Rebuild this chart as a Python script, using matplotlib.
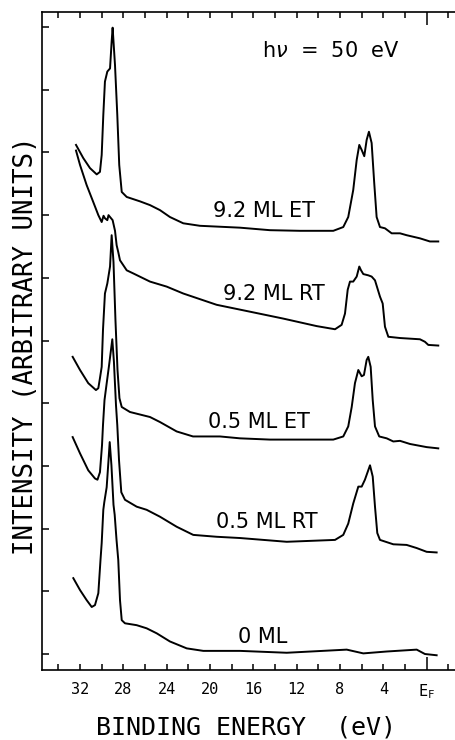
import matplotlib
matplotlib.use("Agg")
import matplotlib.pyplot as plt
import numpy as np

# ---------------- data (binding energy in eV, intensity in arbitrary units) -------------
e_92et = [32.37, 31.70, 31.08, 30.46, 30.16, 30.00, 29.85, 29.70, 29.48, 29.23, 29.08, 28.99,
          28.77, 28.56, 28.38, 28.15, 27.69, 26.47, 25.54, 24.62, 23.70, 22.47, 20.93, 17.23,
          14.47, 11.70, 8.62, 7.70, 7.24, 6.78, 6.46, 6.22, 6.00, 5.76, 5.54, 5.33, 5.08, 4.84,
          4.62, 4.31, 3.85, 3.23, 2.46, 1.85, 0.62, -0.30, -1.07]
i_92et = [8.12, 7.91, 7.75, 7.65, 7.69, 7.96, 8.60, 9.13, 9.29, 9.34, 9.77, 9.99,
          9.39, 8.60, 7.80, 7.37, 7.29, 7.22, 7.16, 7.08, 6.97, 6.87, 6.83, 6.80,
          6.76, 6.75, 6.75, 6.81, 6.97, 7.40, 7.88, 8.12, 8.04, 7.94, 8.20, 8.33, 8.15, 7.51,
          6.97, 6.81, 6.79, 6.71, 6.71, 6.68, 6.63, 6.58, 6.58]

e_92rt = [32.37, 32.00, 31.39, 30.78, 30.31, 30.00, 29.83, 29.70, 29.48, 29.37, 29.23, 28.99,
          28.77, 28.62, 28.47, 28.31, 27.69, 27.08, 25.54, 24.00, 22.47, 19.39, 16.31, 13.24,
          10.15, 8.46, 7.85, 7.54, 7.29, 7.08, 6.78, 6.46, 6.22, 6.06, 5.85, 5.39, 5.08, 4.77,
          4.31, 4.06, 3.85, 3.54, 2.46, 0.62, 0.16, -0.15, -1.07]
i_92rt = [8.03, 7.80, 7.48, 7.21, 7.00, 6.89, 6.99, 6.95, 6.92, 7.00, 6.97, 6.92,
          6.75, 6.52, 6.41, 6.28, 6.12, 6.07, 5.94, 5.86, 5.75, 5.57, 5.46, 5.35,
          5.23, 5.18, 5.25, 5.43, 5.81, 5.94, 5.94, 6.02, 6.18, 6.12, 6.06, 6.04, 6.02, 5.96,
          5.70, 5.59, 5.22, 5.06, 5.04, 5.02, 4.98, 4.93, 4.92]

e_05et = [32.68, 32.00, 31.24, 30.53, 30.31, 30.16, 30.00, 29.88, 29.70, 29.48, 29.23, 29.08,
          28.91, 28.73, 28.54, 28.36, 28.15, 27.39, 25.54, 24.62, 23.08, 21.57, 19.08, 17.23,
          14.47, 8.62, 7.70, 7.24, 6.92, 6.62, 6.31, 6.00, 5.79, 5.54, 5.39, 5.17, 4.98, 4.77,
          4.38, 3.69, 3.08, 2.46, 1.54, 0.00, -1.07]
i_05et = [4.74, 4.53, 4.32, 4.21, 4.24, 4.40, 4.58, 5.17, 5.75, 5.91, 6.18, 6.68,
          6.25, 5.33, 4.53, 4.08, 3.94, 3.86, 3.78, 3.70, 3.55, 3.47, 3.47, 3.44,
          3.42, 3.42, 3.47, 3.63, 3.94, 4.32, 4.53, 4.43, 4.45, 4.69, 4.74, 4.58, 4.05, 3.63,
          3.47, 3.44, 3.39, 3.40, 3.35, 3.30, 3.28]

e_05rt = [32.68, 32.00, 31.24, 30.62, 30.39, 30.16, 29.97, 29.88, 29.74, 29.56, 29.33, 29.02,
          28.87, 28.68, 28.56, 28.40, 28.19, 27.85, 26.77, 25.85, 24.62, 23.08, 21.55, 19.39,
          17.23, 12.92, 8.46, 7.70, 7.24, 6.78, 6.31, 6.00, 5.70, 5.23, 4.98, 4.77, 4.56, 4.31,
          3.08, 1.85, 0.92, 0.00, -0.92]
i_05rt = [3.46, 3.20, 2.93, 2.80, 2.78, 2.90, 3.33, 3.65, 4.05, 4.29, 4.59, 5.02,
          4.66, 3.97, 3.65, 3.09, 2.58, 2.46, 2.35, 2.30, 2.19, 2.03, 1.90, 1.87,
          1.85, 1.79, 1.82, 1.90, 2.08, 2.40, 2.67, 2.67, 2.78, 3.01, 2.83, 2.35, 1.93, 1.82,
          1.75, 1.74, 1.69, 1.63, 1.62]

e_0ml = [32.62, 32.00, 31.39, 30.92, 30.62, 30.31, 30.11, 30.00, 29.85, 29.76, 29.54, 29.37,
         29.26, 29.10, 28.91, 28.80, 28.63, 28.47, 28.31, 28.15, 27.85, 26.77, 25.85, 24.92,
         23.70, 22.15, 20.62, 17.23, 12.92, 7.38, 5.85, 3.69, 0.92, 0.16, -0.92]
i_0ml = [1.21, 1.02, 0.86, 0.75, 0.78, 0.97, 1.50, 1.77, 2.30, 2.42, 2.66, 3.09,
         3.38, 3.01, 2.38, 2.22, 1.82, 1.50, 0.86, 0.54, 0.49, 0.46, 0.41, 0.33,
         0.20, 0.09, 0.05, 0.05, 0.02, 0.07, 0.01, 0.04, 0.07, 0.00, -0.02]

curve_labels = ["9.2 ML ET", "9.2 ML RT", "0.5 ML ET", "0.5 ML RT", "0 ML"]
label_energy = [15.02, 14.10, 15.48, 14.74, 15.11]
label_level = [6.97, 5.65, 3.60, 2.01, 0.175]

xtick_major = [32, 28, 24, 20, 16, 12, 8, 4, 0]
xtick_labels = ["32", "28", "24", "20", "16", "12", "8", "4", r"$\mathregular{E_F}$"]
xtick_minor = [34, 30, 26, 22, 18, 14, 10, 6, 2, -2]
ytick_vals = list(range(0, 11))

# ---------------- figure -----------------------------------------------------------------
plt.rcParams['font.family'] = ['DejaVu Sans Mono', 'DejaVu Sans']
plt.rcParams['mathtext.fontset'] = 'dejavusans'

W, H = 456, 740
fig = plt.figure(figsize=(W / 100, H / 100), dpi=100)
fig.patch.set_facecolor('white')
ax = fig.add_axes([42 / W, 1 - 670 / H, (470 - 42) / W, (670 - 12) / H])

lw = 1.4
for e, i in [(e_92et, i_92et), (e_92rt, i_92rt), (e_05et, i_05et),
             (e_05rt, i_05rt), (e_0ml, i_0ml)]:
    ax.plot(e, i, color='black', lw=lw, solid_joinstyle='round')

ax.set_xlim(35.51, -4.0)
ax.set_ylim(-0.255, 10.24)

for sp in ['left', 'bottom', 'top']:
    ax.spines[sp].set_linewidth(1.2)
ax.spines['right'].set_visible(False)

ax.set_xticks(xtick_major)
ax.set_xticklabels(xtick_labels)
ax.set_xticks(xtick_minor, minor=True)
ax.set_yticks(ytick_vals)
ax.set_yticklabels([])

ax.tick_params(axis='x', which='both', direction='in', top=True, bottom=True,
               length=4.3, width=1.1, labelsize=11, pad=9)
ax.tick_params(axis='y', which='both', direction='in', left=True, right=False,
               length=5, width=1.1)
for t in ax.xaxis.get_major_ticks():
    if t.get_loc() == 0:
        t.tick1line.set_markersize(9.4)
        t.tick2line.set_markersize(9.4)

ax.set_xlabel("BINDING ENERGY  (eV)", fontsize=18, va='baseline')
ax.xaxis.set_label_coords((246.5 - 42) / 428, -(734.5 - 670) / 658)
ax.set_ylabel("INTENSITY (ARBITRARY UNITS)", fontsize=18.5, va='baseline',
              ha='center', rotation=90, rotation_mode='anchor')
ax.yaxis.set_label_coords((33 - 42) / 428, (670 - 346) / 658)

for lab, e, lv in zip(curve_labels, label_energy, label_level):
    ax.text(e, lv, lab, ha='center', va='baseline', fontsize=15, family='DejaVu Sans')

ax.text(8.83, 9.53, r"h$\nu$  =  50  eV", ha='center', va='baseline', fontsize=15,
        family='DejaVu Sans')

fig.savefig("out.png", dpi=100, facecolor='white')
